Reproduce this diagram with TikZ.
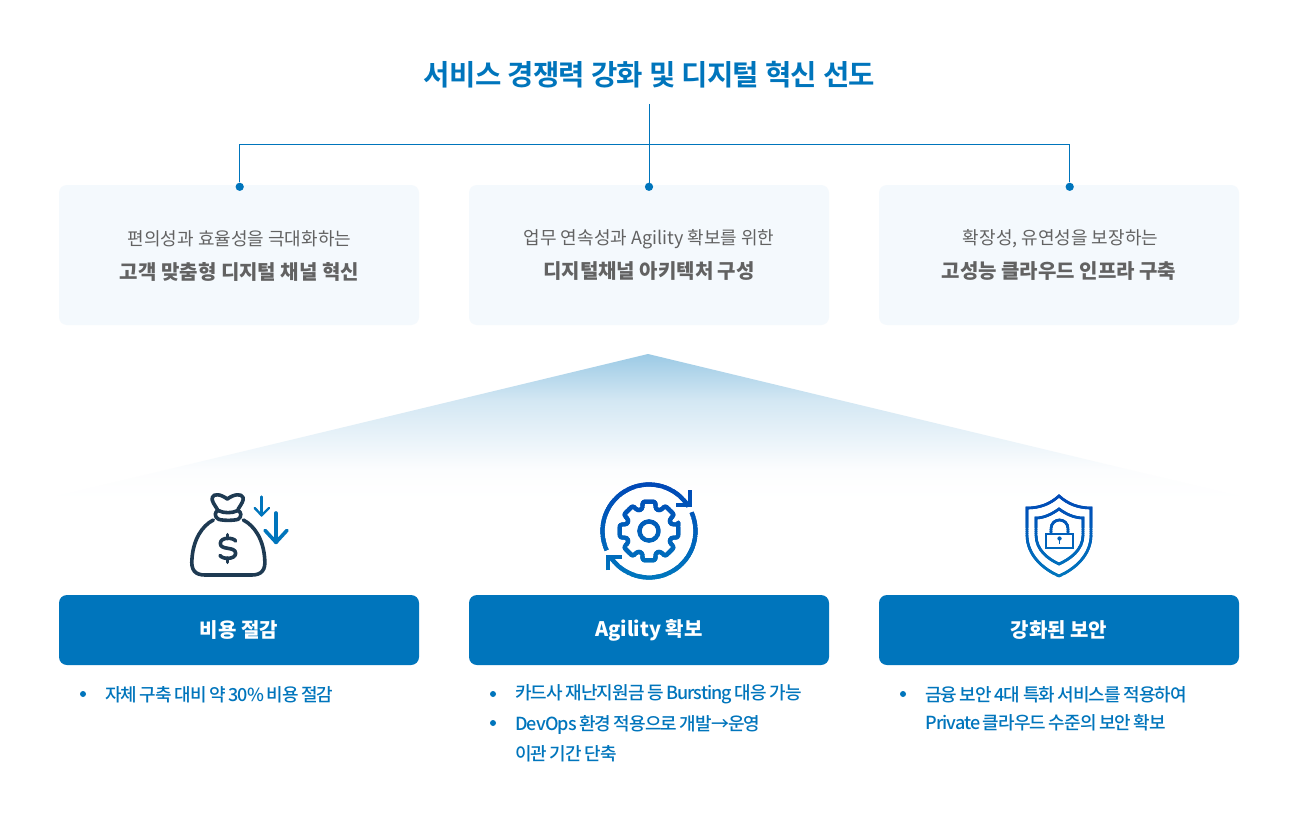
\documentclass[tikz,border=0pt]{standalone}
\usepackage{fontspec}
\setmainfont{Noto Sans CJK KR}
\newfontfamily\titlef[LetterSpace=-2.2]{Noto Sans CJK KR Bold}
\newfontfamily\listf[LetterSpace=-5.2,WordSpace=0.8]{Noto Sans CJK KR Medium}
\definecolor{brand}{HTML}{0075BC}
\definecolor{soft}{HTML}{F4F9FD}
\definecolor{txt}{HTML}{626262}
\definecolor{bagc}{HTML}{1E3A52}
\definecolor{gradtop}{HTML}{0046B6}
\definecolor{gradbot}{HTML}{0078BE}
\definecolor{peak}{HTML}{9CCAE5}
\definecolor{fadea}{HTML}{D3E7F3}
\definecolor{fadeb}{HTML}{FCFDFE}
\pgfdeclareverticalshading{triglow}{100bp}{color(0bp)=(white); color(25bp)=(white); color(35.3bp)=(fadeb); color(59.25bp)=(fadea); color(75bp)=(peak); color(100bp)=(peak)}
\tikzset{
  softbox/.style={fill=soft,rounded corners=6pt,minimum width=270pt,minimum height=105pt,inner sep=0pt},
  bluebox/.style={fill=brand,rounded corners=6pt,minimum width=270pt,minimum height=52.5pt,inner sep=0pt,text=white,font=\bfseries\fontsize{15}{18}\selectfont},
  linkline/.style={draw=brand,line width=0.75pt},
  dotnode/.style={circle,fill=brand,minimum size=6.2pt,inner sep=0pt},
  subline/.style={text=txt,font=\fontsize{13.5}{16}\selectfont,inner sep=0pt},
  mainline/.style={text=txt,font=\bfseries\fontsize{15}{18}\selectfont,inner sep=0pt},
  listline/.style={text=brand,anchor=west,inner sep=0pt,font=\listf\fontsize{13.5}{16}\selectfont},
  bulletdot/.style={circle,fill=brand,minimum size=4.5pt,inner sep=0pt},
}
\newcommand{\bandicon}[5]{% x0,y0,x1,y1,content
  \foreach \i in {0,...,46}{%
    \pgfmathsetmacro{\yy}{#2+(#4-#2)*\i/47}%
    \pgfmathsetmacro{\yz}{#2+(#4-#2)*(\i+1.4)/47}%
    \pgfmathsetmacro{\pp}{100-100*\i/46}%
    \colorlet{iconc}{gradtop!\pp!gradbot}%
    \begin{scope}
      \clip (#1,\yy) rectangle (#3,\yz);
      #5
    \end{scope}
  }%
}
\begin{document}
\begin{tikzpicture}[x=0.75pt,y=-0.75pt]
\useasboundingbox (0,0) rectangle (1298,820);
\fill[white] (0,0) rectangle (1298,820);

% title and tree
\node[text=brand,font=\titlef\fontsize{21.5}{26}\selectfont,inner sep=0pt] (title) at (649.5,74.5) {서비스 경쟁력 강화 및 디지털 혁신 선도};
\coordinate (tstem) at (649.5,104);

\node[softbox] (b1) at (239,255) {};
\node[softbox] (b2) at (649,255) {};
\node[softbox] (b3) at (1059,255) {};
\node[dotnode] (d1) at (239.7,186.8) {};
\node[dotnode] (d2) at (649,186.8) {};
\node[dotnode] (d3) at (1069.7,186.8) {};
\coordinate (hub) at (649.5,144.5);
\draw[linkline] (tstem) -- (hub |- d2);
\draw[linkline] (d1) |- (hub) -| (d3);

\node[subline] (s1) at (239.5,239) {편의성과 효율성을 극대화하는};
\node[mainline] (m1) at (239.5,271.5) {고객 맞춤형 디지털 채널 혁신};
\node[subline] (s2) at (649,239) {업무 연속성과 Agility 확보를 위한};
\node[mainline] (m2) at (649,271.5) {디지털채널 아키텍처 구성};
\node[subline] (s3) at (1060.5,239) {확장성, 유연성을 보장하는};
\node[mainline] (m3) at (1059,271.5) {고성능 클라우드 인프라 구축};

% gradient triangle
\shade[shading=triglow] (648,354) -- (1255,500) -- (41,500) -- cycle;

% blue boxes
\node[bluebox] (c1) at (239,630) {\raisebox{-0.8pt}{비용 절감}};
\node[bluebox] (c2) at (649,630) {\raisebox{-0.8pt}{Agility 확보}};
\node[bluebox] (c3) at (1059,630) {\raisebox{-0.8pt}{강화된 보안}};

% lists
\node[bulletdot] (p1) at (83,694) {};
\node[listline] (l1) at (105,694.5) {자체 구축 대비 약 30\% 비용 절감};
\node[bulletdot] (p2) at (493,694) {};
\node[listline] (l2) at (515,694.5) {카드사 재난지원금 등 Bursting 대응 가능};
\node[bulletdot] (p3) at (493,723) {};
\node[listline] (l3) at (515,724.5) {DevOps 환경 적용으로 개발→운영};
\node[listline] (l4) at (515,753.5) {이관 기간 단축};
\node[bulletdot] (p4) at (903,694) {};
\node[listline] (l5) at (925,694.5) {금융 보안 4대 특화 서비스를 적용하여};
\node[listline] (l6) at (925,722.5) {Private 클라우드 수준의 보안 확보};

% money bag
\begin{scope}[shift={(170,480)},x=0.25pt,y=-0.25pt]
  \begin{scope}[draw=bagc,line width=2.7pt,line cap=round,line join=round]
  \draw (142,88) .. controls (132,72) and (124,62) .. (127,52) .. controls (131,40) and (152,42) .. (172,57) .. controls (192,42) and (214,40) .. (219,52) .. controls (222,62) and (214,72) .. (204,88);
  \draw (146,92) .. controls (160,100) and (188,100) .. (202,92) .. controls (215,92) and (216,112) .. (204,118) .. controls (190,122) and (160,122) .. (146,118) .. controls (132,112) and (133,92) .. (146,92) -- cycle;
  \draw (130,120) .. controls (95,138) and (70,180) .. (66,235) .. controls (62,270) and (75,285) .. (105,285) -- (245,285) .. controls (275,285) and (288,270) .. (284,235) .. controls (280,180) and (255,138) .. (220,120);
  \draw (197,183) .. controls (190,172) and (152,170) .. (151,190) .. controls (150,212) and (197,198) .. (197,220) .. controls (196,240) and (155,238) .. (150,226);
  \draw (172,164) -- (172,176);
  \draw (172,234) -- (172,247);
  \end{scope}
  \begin{scope}[draw=brand,line cap=round,line join=round]
  \draw[line width=1.8pt] (275,50) -- (275,106);
  \draw[line width=1.8pt] (254,84) -- (275,106) -- (297,84);
  \draw[line width=2.7pt] (318,99) -- (318,187);
  \draw[line width=2.7pt] (285,151) -- (318,187) -- (351,151);
  \end{scope}
\end{scope}

% gear with cycle arrows
\bandicon{595}{478}{703}{583}{
  \begin{scope}[shift={(649,531)}]
  \draw[iconc,line width=3.2pt] (0:9.5) arc[start angle=0,end angle=360,radius=9.5];
  \draw[iconc,line width=3.2pt,line join=round,rounded corners=1.6pt]
    (-12:30)
    \foreach \a in {0,45,...,315}{
      -- (\a-12:30) -- (\a+12:30) -- (\a+17:23) -- (\a+28:23)
    } -- cycle;
  \draw[iconc,line width=3.2pt] (155.5:46.5) arc[start angle=155.5,end angle=328,radius=46.5];
  \draw[iconc,line width=3.2pt] (-23.7:46.5) arc[start angle=-23.7,end angle=147,radius=46.5];
  \end{scope}
  \draw[iconc,line width=3.6pt] (690,490) -- (690,505) -- (676,505);
  \draw[iconc,line width=3.6pt] (608,570) -- (608,557) -- (622,557);
}

% shield
\bandicon{1020}{490}{1098}{582}{
  \draw[iconc,line width=2pt,line join=miter] (1059,496) .. controls (1068,504) and (1078,508) .. (1091,508) -- (1091,535) .. controls (1091,555) and (1075,569) .. (1059,576) .. controls (1043,569) and (1027,555) .. (1027,535) -- (1027,508) .. controls (1040,508) and (1050,504) .. (1059,496) -- cycle;
  \draw[iconc,line width=2pt,line join=miter] (1059,509) .. controls (1066,514) and (1074,518) .. (1083,518) -- (1083,535) .. controls (1083,550) and (1070,559) .. (1059,564) .. controls (1048,559) and (1036,550) .. (1036,535) -- (1036,518) .. controls (1044,518) and (1052,514) .. (1059,509) -- cycle;
  \draw[iconc,line width=2pt] (1046,534) rectangle (1073,548);
  \draw[iconc,line width=2pt] (1051,534) -- (1051,529) .. controls (1051,517) and (1068,517) .. (1068,529) -- (1068,534);
  \fill[iconc] (1059.5,538.5) circle (2);
  \draw[iconc,line width=1pt] (1059.5,539) -- (1059.5,543.5);
}
\end{tikzpicture}
\end{document}
